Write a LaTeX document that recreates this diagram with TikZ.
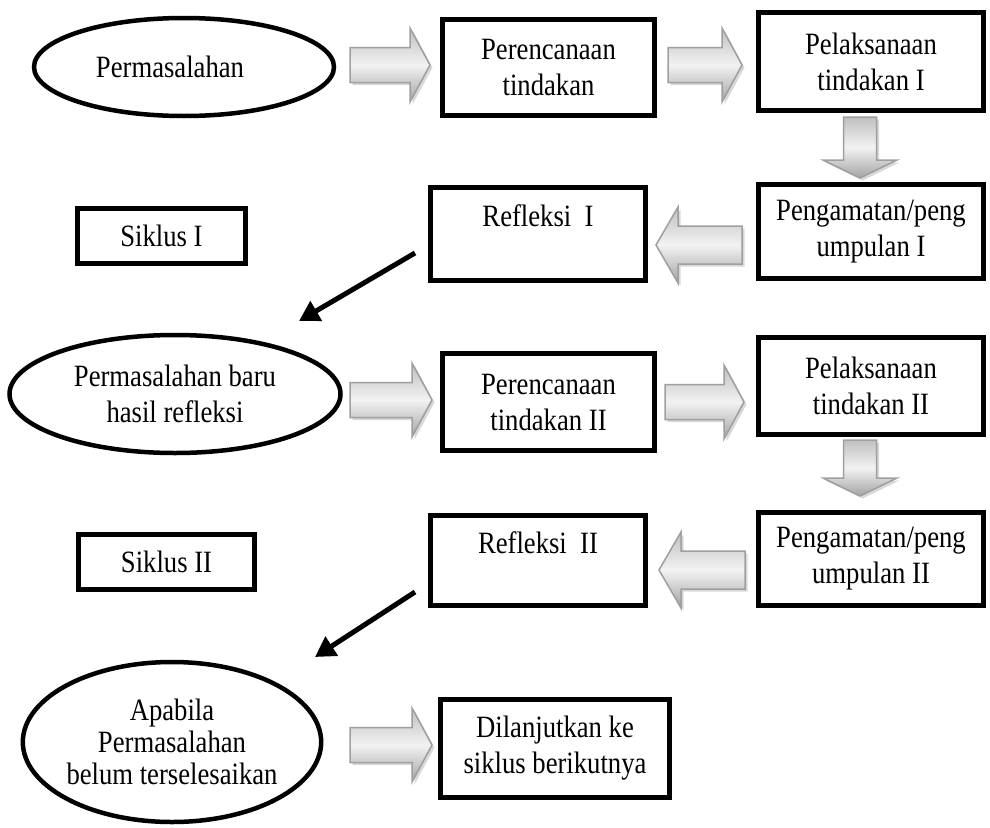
\documentclass[tikz,border=0pt]{standalone}
\usepackage{fontspec}
\setmainfont{Liberation Serif}[FakeStretch=0.86]
\usetikzlibrary{shapes.geometric,arrows.meta,shadows}
\newcommand\BArrowR[3]{%
  \path[barrow] (#1,#3-17.5) -- (#2-20,#3-17.5) -- (#2-20,#3-37) -- (#2,#3)
    -- (#2-20,#3+37) -- (#2-20,#3+17.5) -- (#1,#3+17.5) -- cycle;}
\newcommand\BArrowL[3]{%
  \path[barrow] (#1,#3-19) -- (#2+22,#3-19) -- (#2+22,#3-38) -- (#2,#3)
    -- (#2+22,#3+38) -- (#2+22,#3+19) -- (#1,#3+19) -- cycle;}
\newcommand\BArrowD[3]{%
  \path[barrow] (#1-16.5,#2) -- (#1-16.5,#3-18) -- (#1-37,#3-18) -- (#1,#3)
    -- (#1+37,#3-18) -- (#1+16.5,#3-18) -- (#1+16.5,#2) -- cycle;}
\begin{document}
\begin{tikzpicture}[x=1pt,y=-1pt,
  txt/.style={font=\fontsize{31}{36}\selectfont, align=center},
  box/.style={txt, draw, rectangle, line width=5pt, inner sep=0pt},
  oval/.style={txt, draw, ellipse, line width=4.5pt, inner sep=0pt},
  barrow/.style={draw=gray!75, line width=1.5pt, top color=gray!50,
    bottom color=gray!72, middle color=gray!10,
    drop shadow={shadow xshift=2.5pt, shadow yshift=-2.5pt, opacity=0.3}},
  diag/.style={line width=5pt, -{Triangle[length=20pt,width=22pt]}}]
\useasboundingbox (0,0) rectangle (990,827);
\fill[white] (0,0) rectangle (990,827);

% row 1
\node[oval, minimum width=300, minimum height=98] (e1) at (184,67) {Permasalahan\hspace{28pt}};
\node[box, minimum width=212, minimum height=96] (p1) at (548.5,67.5) {Perencanaan\\tindakan};
\node[box, minimum width=225, minimum height=98] (l1) at (871,61.5) {Pelaksanaan\\tindakan I};
\node[box, minimum width=225, minimum height=94] (o1) at (871,231.5) {Pengamatan/peng\\umpulan I};
\node[box, minimum width=215, minimum height=93] (r1) at (538,234) {Refleksi\ \ I\\~};
\node[box, minimum width=168, minimum height=55] (s1) at (161.5,236) {Siklus I};

\BArrowR{350}{430}{65}
\BArrowR{668}{742}{65}
\BArrowD{860}{117}{178}
\BArrowL{742}{656}{245}

\coordinate (d1s) at (415,253);
\coordinate (d1e) at (299,321);
\draw[diag] (d1s) -- (d1e);

% row 2
\node[oval, minimum width=331, minimum height=118] (e2) at (175,394) {Permasalahan baru\\hasil refleksi};
\node[box, minimum width=212, minimum height=97] (p2) at (548.5,402) {Perencanaan\\tindakan II};
\node[box, minimum width=225, minimum height=97] (l2) at (871,386) {Pelaksanaan\\tindakan II};
\node[box, minimum width=225, minimum height=93] (o2) at (871,559) {Pengamatan/peng\\umpulan II};
\node[box, minimum width=215, minimum height=90] (r2) at (538,560.5) {Refleksi\ \ II\\~};
\node[box, minimum width=176, minimum height=55] (s2) at (166.5,562) {Siklus II};

\BArrowR{350}{432}{400}
\BArrowR{665}{744}{402}
\BArrowD{860}{440}{496}
\BArrowL{745}{659}{570}

\coordinate (d2s) at (415,592);
\coordinate (d2e) at (315,657);
\draw[diag] (d2s) -- (d2e);

% row 3
\node[oval, minimum width=292, minimum height=160, font=\fontsize{31}{32}\selectfont] (e3) at (172,742) {Apabila\\Permasalahan\\belum terselesaikan};
\node[box, minimum width=229, minimum height=98] (d) at (555,748.5) {Dilanjutkan ke\\siklus berikutnya};
\BArrowR{350}{432}{745}
\end{tikzpicture}
\end{document}
